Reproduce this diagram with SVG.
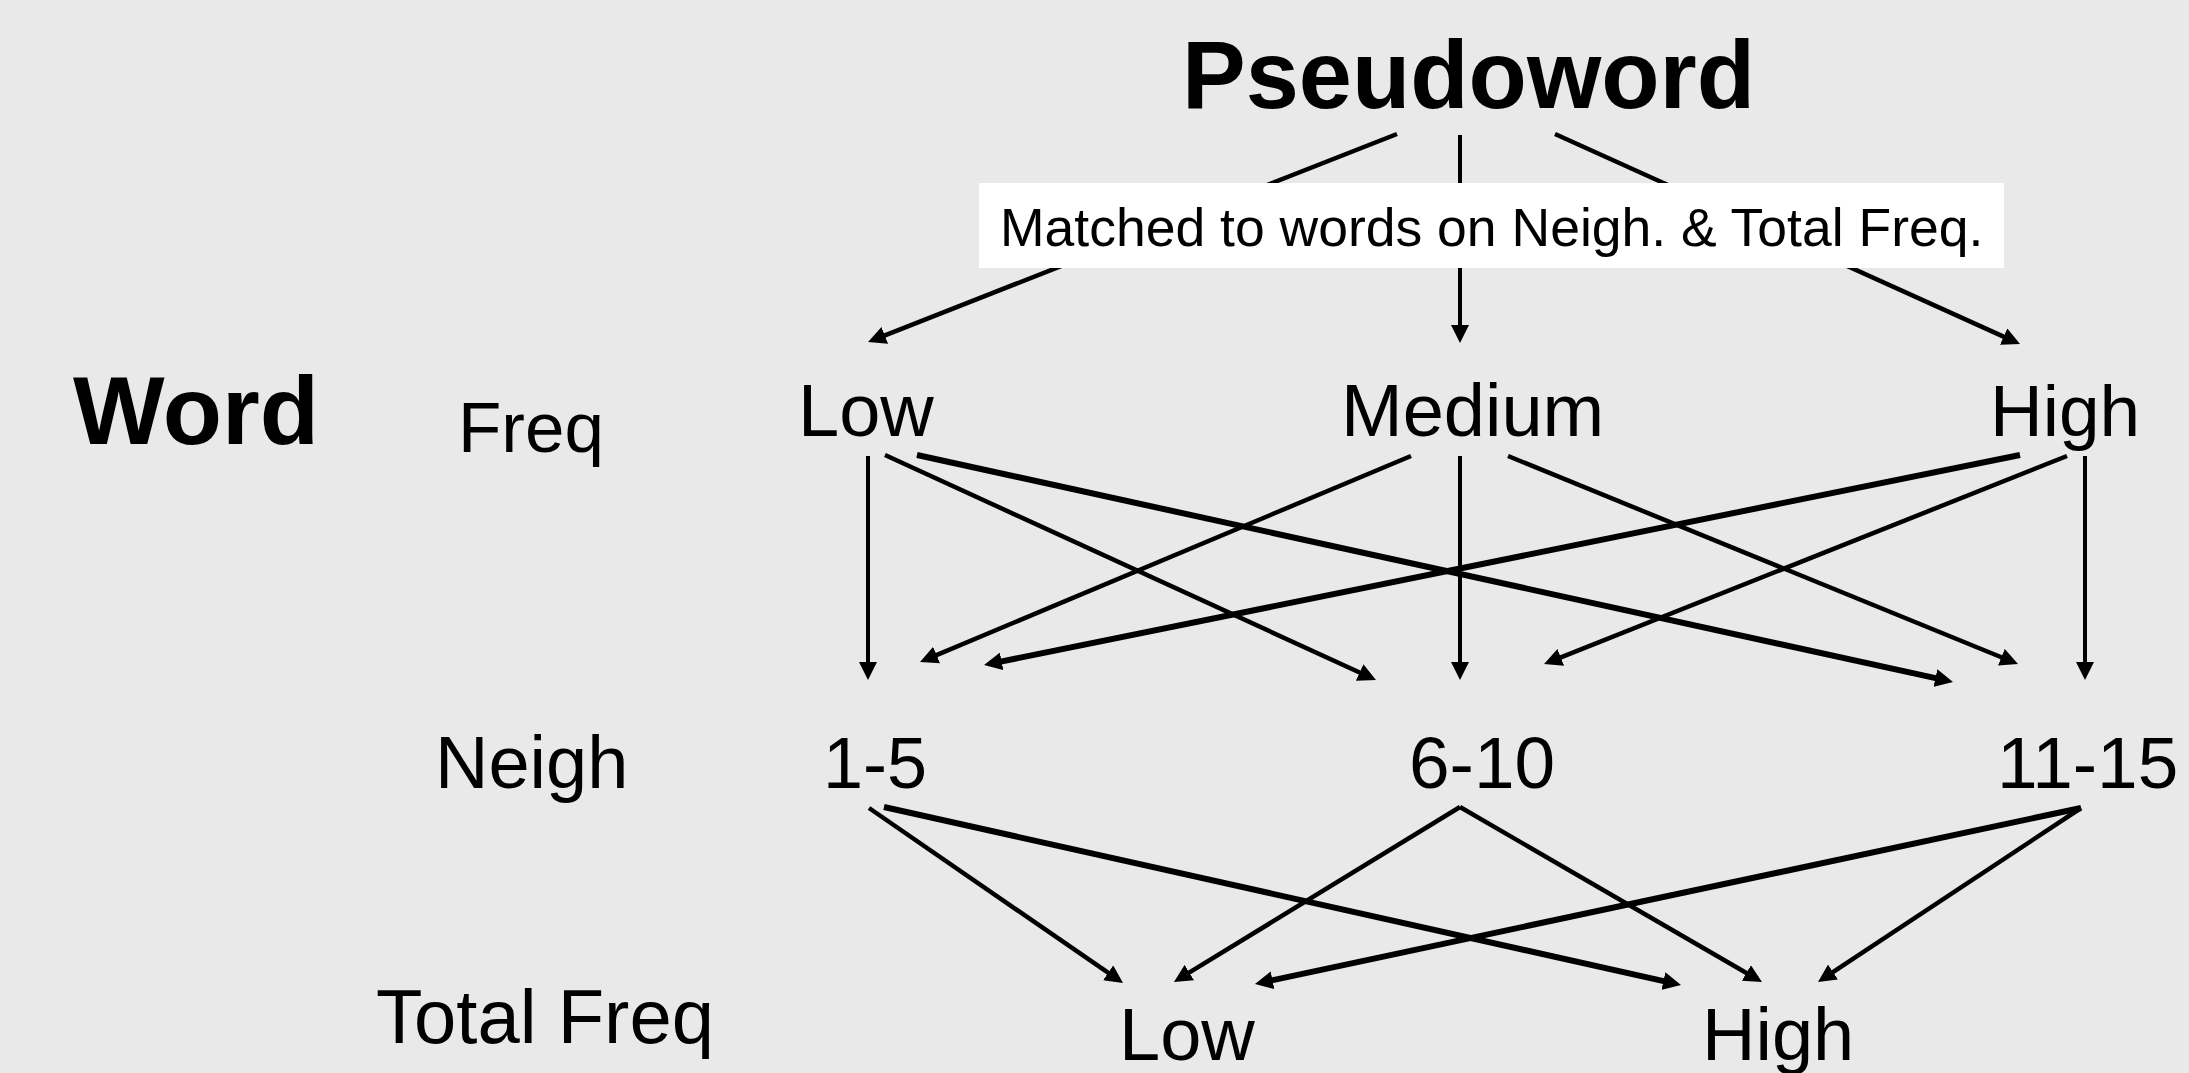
<svg xmlns="http://www.w3.org/2000/svg" width="2189" height="1073" viewBox="0 0 2189 1073">
<style>
text{font-family:"Liberation Sans",Arial,sans-serif;fill:#000}
.b{font-weight:bold}
.c line{stroke:#000;stroke-width:4.5;marker-end:url(#ah)}
.c line.v{stroke-width:4}
.c line.t{stroke-width:6}
</style>
<defs>
<marker id="ah" viewBox="0 0 18 18" refX="6" refY="9" markerWidth="18" markerHeight="18" markerUnits="userSpaceOnUse" orient="auto">
<path d="M0,0 L18,9 L0,18 Z" fill="#000"/>
</marker>
</defs>
<rect width="2189" height="1073" fill="#e9e9e9"/>
<g class="c" id="connectors">
<line x1="1397" y1="134" x2="879.2" y2="337.6"/>
<line class="v" x1="1460" y1="135" x2="1460" y2="331"/>
<line x1="1555" y1="134" x2="2009.1" y2="339.1"/>
<line class="v" x1="868" y1="456" x2="868" y2="668"/>
<line x1="885" y1="455" x2="1365.1" y2="675"/>
<line class="t" x1="917" y1="455" x2="1941.3" y2="679.4"/>
<line x1="1411" y1="456" x2="931.1" y2="657.4"/>
<line class="v" x1="1460" y1="456" x2="1460" y2="668"/>
<line x1="1508" y1="456" x2="2006.9" y2="659.5"/>
<line class="t" x1="2020" y1="455" x2="995.8" y2="662.6"/>
<line x1="2067" y1="456" x2="1555.2" y2="659.6"/>
<line class="v" x1="2085" y1="456" x2="2085" y2="668"/>
<line x1="869" y1="808" x2="1113.1" y2="976.2"/>
<line class="t" x1="884" y1="807" x2="1669.3" y2="982.4"/>
<line x1="1460" y1="807" x2="1184.2" y2="975.7"/>
<line x1="1460" y1="807" x2="1751.6" y2="976"/>
<line class="t" x1="2081" y1="808" x2="1266.7" y2="981.5"/>
<line x1="2081" y1="808" x2="1828" y2="975.4"/>
</g>
<g id="label-matched">
<rect x="979" y="183" width="1025" height="85" fill="#fff"/>
<text x="1000" y="246" font-size="53.5">Matched to words on Neigh. &amp; Total Freq.</text>
</g>
<g id="pseudoword"><text class="b" x="1182" y="108" font-size="95.5">Pseudoword</text></g>
<g id="word"><text class="b" x="73" y="444" font-size="97">Word</text></g>
<g id="freq-label"><text x="458" y="452" font-size="71">Freq</text></g>
<g id="freq-low"><text x="798" y="436" font-size="74">Low</text></g>
<g id="freq-medium"><text x="1341" y="436" font-size="74">Medium</text></g>
<g id="freq-high"><text x="1990" y="436" font-size="73">High</text></g>
<g id="neigh-label"><text x="435" y="788" font-size="74">Neigh</text></g>
<g id="neigh-1-5"><text x="823" y="788" font-size="72">1-5</text></g>
<g id="neigh-6-10"><text x="1409" y="788" font-size="73">6-10</text></g>
<g id="neigh-11-15"><text x="1997" y="788" font-size="73">11-15</text></g>
<g id="total-label"><text x="376" y="1043" font-size="76">Total Freq</text></g>
<g id="total-low"><text x="1119" y="1060" font-size="74">Low</text></g>
<g id="total-high"><text x="1702" y="1060" font-size="74">High</text></g>
</svg>
